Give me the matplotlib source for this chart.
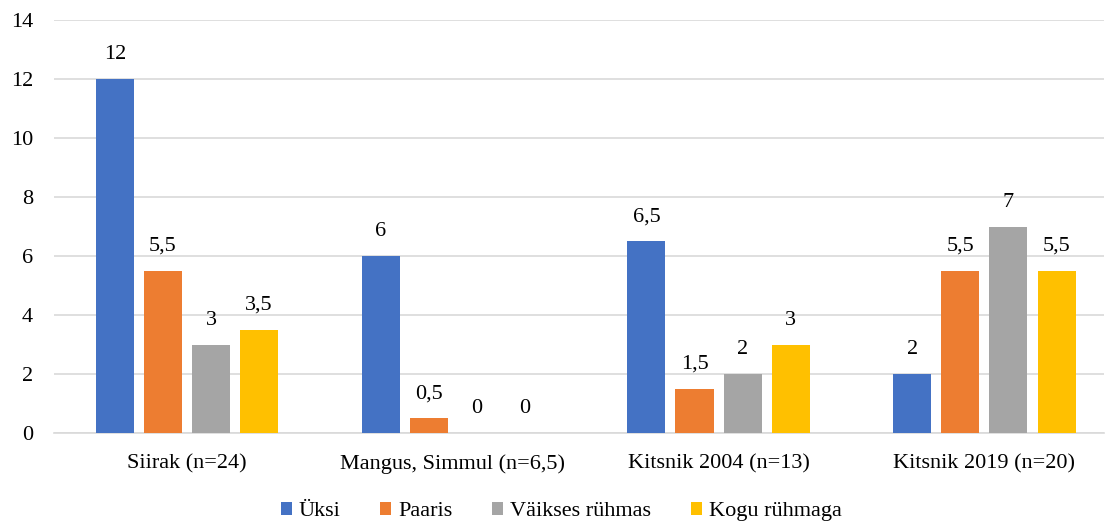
import matplotlib.pyplot as plt
import numpy as np

plt.rcParams['font.family'] = ['Liberation Serif', 'DejaVu Serif']

groups = ['Siirak (n=24)', 'Mangus, Simmul (n=6,5)', 'Kitsnik 2004 (n=13)', 'Kitsnik 2019 (n=20)']
series = ['Üksi', 'Paaris', 'Väikses rühmas', 'Kogu rühmaga']
uksi = [12, 6, 6.5, 2]
paaris = [5.5, 0.5, 1.5, 5.5]
vaikses = [3, 0, 2, 7]
kogu = [3.5, 0, 3, 5.5]
colors = ['#4472C4', '#ED7D31', '#A5A5A5', '#FFC000']

fig = plt.figure(figsize=(11.13, 5.25), dpi=100)
# axes spans px 54..1104 horizontally, y 20..433
ax = fig.add_axes([54 / 1113, 1 - 433 / 525, 1050 / 1113, 413 / 525])

x = np.arange(len(groups))
w = 0.143
step = 0.181
for i, (vals, c, name) in enumerate(zip([uksi, paaris, vaikses, kogu], colors, series)):
    pos = x + (i - 1.5) * step
    ax.bar(pos, vals, width=w, color=c, label=name, zorder=3)
    for p, v in zip(pos, vals):
        txt = ('%g' % v).replace('.', ',')
        ax.text(p, v + 0.5, txt, ha='center', va='bottom', fontsize=16, color='#000000')

ax.set_xlim(-0.5, 3.45)
ax.set_ylim(0, 14)
ax.set_yticks(range(0, 15, 2))
ax.set_xticks(x)
ax.set_xticklabels(groups, fontsize=16)
ax.tick_params(axis='y', labelsize=16, length=0, pad=15)
ax.tick_params(axis='x', length=0, pad=15)
ax.grid(axis='y', color='#D9D9D9', linewidth=1.2, zorder=0)
for s in ['top', 'right', 'left']:
    ax.spines[s].set_visible(False)
ax.spines['bottom'].set_color('#D9D9D9')
ax.spines['bottom'].set_linewidth(1.2)

ax.legend(loc='center', bbox_to_anchor=(0.483, -0.19), ncol=4, frameon=False,
          fontsize=16, handlelength=0.5, handleheight=0.5, handletextpad=0.3, columnspacing=1.8)

fig.savefig('out.png', dpi=100)
